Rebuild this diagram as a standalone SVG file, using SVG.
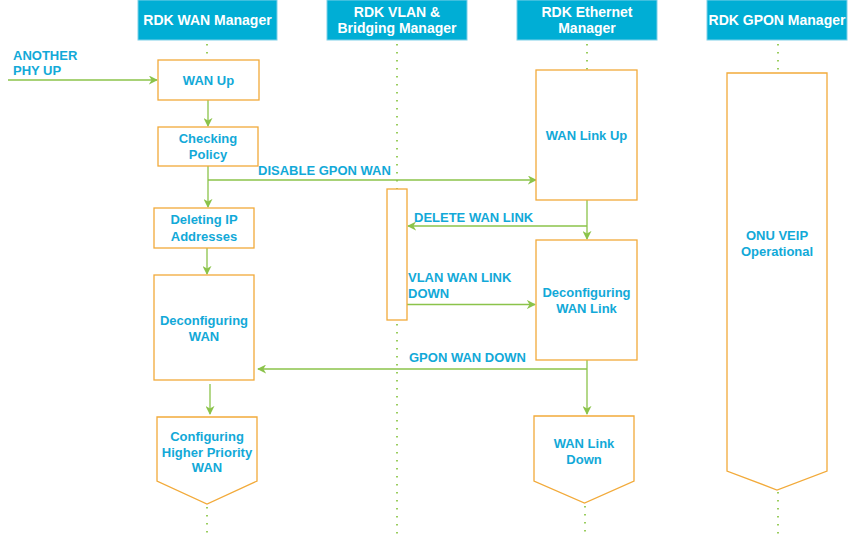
<svg xmlns="http://www.w3.org/2000/svg" width="848" height="535" viewBox="0 0 848 535">
<defs>
<style>
.hdr{fill:#00AED5;stroke:#7FD0E8;stroke-width:1}
.ht{font-family:"Liberation Sans",Arial,sans-serif;font-weight:bold;font-size:14px;fill:#fff;text-anchor:middle}
.box{fill:#fff;stroke:#F2AA3A;stroke-width:1.3}
.t{font-family:"Liberation Sans",Arial,sans-serif;font-weight:bold;font-size:13px;fill:#12A9D8;text-anchor:middle}
.lbl{font-family:"Liberation Sans",Arial,sans-serif;font-weight:bold;font-size:13px;fill:#12A9D8}
.life{stroke:#9ACD5E;stroke-width:2;stroke-dasharray:1.5 6.5;fill:none}
.msg{stroke:#8BC34A;stroke-width:1.3;fill:none}
</style>
<marker id="arr" viewBox="0 0 10 10" refX="9" refY="5" markerWidth="9" markerHeight="9" markerUnits="userSpaceOnUse" orient="auto">
<path d="M0,0 L10,5 L0,10 L3,5 Z" fill="#8BC34A"/>
</marker>
</defs>
<rect width="848" height="535" fill="#fff"/>

<g id="lifelines">
<line class="life" x1="207" y1="44" x2="207" y2="60"/>
<line class="life" x1="207" y1="507" x2="207" y2="535"/>
<line class="life" x1="397" y1="44" x2="397" y2="189"/>
<line class="life" x1="397" y1="324" x2="397" y2="535"/>
<line class="life" x1="587" y1="44" x2="587" y2="70"/>
<line class="life" x1="585" y1="506" x2="585" y2="535"/>
<line class="life" x1="778" y1="44" x2="778" y2="73"/>
<line class="life" x1="778" y1="492" x2="778" y2="535"/>
</g>

<g id="hdr-wan"><rect class="hdr" x="138" y="0" width="139" height="40"/><text class="ht" x="207.5" y="25">RDK WAN Manager</text></g>
<g id="hdr-vlan"><rect class="hdr" x="327" y="0" width="140" height="40"/><text class="ht" x="397" y="17">RDK VLAN &amp;</text><text class="ht" x="397" y="33">Bridging Manager</text></g>
<g id="hdr-eth"><rect class="hdr" x="517" y="0" width="140" height="40"/><text class="ht" x="587" y="17">RDK Ethernet</text><text class="ht" x="587" y="33">Manager</text></g>
<g id="hdr-gpon"><rect class="hdr" x="707" y="0" width="140" height="40"/><text class="ht" x="777" y="25">RDK GPON Manager</text></g>

<g id="connectors">
<line class="msg" x1="8" y1="80" x2="157" y2="80" marker-end="url(#arr)"/>
<line class="msg" x1="208" y1="100" x2="208" y2="126" marker-end="url(#arr)"/>
<line class="msg" x1="208" y1="166" x2="208" y2="207" marker-end="url(#arr)"/>
<line class="msg" x1="208" y1="180" x2="536" y2="180" marker-end="url(#arr)"/>
<line class="msg" x1="207" y1="248" x2="207" y2="274" marker-end="url(#arr)"/>
<line class="msg" x1="587" y1="200" x2="587" y2="239" marker-end="url(#arr)"/>
<line class="msg" x1="587" y1="226" x2="408" y2="226" marker-end="url(#arr)"/>
<line class="msg" x1="407" y1="304.5" x2="535" y2="304.5" marker-end="url(#arr)"/>
<line class="msg" x1="587" y1="360" x2="587" y2="369"/>
<line class="msg" x1="587" y1="369" x2="258" y2="369" marker-end="url(#arr)"/>
<line class="msg" x1="587" y1="369" x2="587" y2="414" marker-end="url(#arr)"/>
<line class="msg" x1="210" y1="384" x2="210" y2="414" marker-end="url(#arr)"/>
</g>

<g id="labels">
<text class="lbl" x="13" y="60">ANOTHER</text>
<text class="lbl" x="13" y="75">PHY UP</text>
<text class="lbl" x="258" y="175">DISABLE GPON WAN</text>
<text class="lbl" x="414" y="222">DELETE WAN LINK</text>
<text class="lbl" x="408" y="282">VLAN WAN LINK</text>
<text class="lbl" x="408" y="298">DOWN</text>
<text class="lbl" x="409" y="362">GPON WAN DOWN</text>
</g>

<g id="wan-up"><rect class="box" x="158" y="60" width="101" height="40"/><text class="t" x="208.5" y="85">WAN Up</text></g>
<g id="checking-policy"><rect class="box" x="158" y="127" width="100" height="39"/><text class="t" x="208" y="143">Checking</text><text class="t" x="208" y="159">Policy</text></g>
<g id="deleting-ip"><rect class="box" x="154" y="208" width="100" height="40"/><text class="t" x="204" y="224">Deleting IP</text><text class="t" x="204" y="241">Addresses</text></g>
<g id="deconfig-wan"><rect class="box" x="154" y="275" width="100" height="105"/><text class="t" x="204" y="325">Deconfiguring</text><text class="t" x="204" y="341">WAN</text></g>
<g id="config-higher"><path class="box" d="M157,417 H257 V481 L207,504 L157,481 Z"/><text class="t" x="207" y="441">Configuring</text><text class="t" x="207" y="457">Higher Priority</text><text class="t" x="207" y="472">WAN</text></g>
<g id="vlan-activation"><rect class="box" x="387" y="189" width="20" height="131"/></g>
<g id="wan-link-up"><rect class="box" x="536" y="70" width="101" height="130"/><text class="t" x="586.5" y="140">WAN Link Up</text></g>
<g id="deconfig-link"><rect class="box" x="536" y="240" width="101" height="120"/><text class="t" x="586.5" y="297">Deconfiguring</text><text class="t" x="586.5" y="313">WAN Link</text></g>
<g id="wan-link-down"><path class="box" d="M534,416 H634 V481 L584.5,503 L534,481 Z"/><text class="t" x="584" y="448">WAN Link</text><text class="t" x="584" y="464">Down</text></g>
<g id="onu-veip"><path class="box" d="M727,73 H827 V471 L777,490 L727,471 Z"/><text class="t" x="777" y="240">ONU VEIP</text><text class="t" x="777" y="256">Operational</text></g>
</svg>
